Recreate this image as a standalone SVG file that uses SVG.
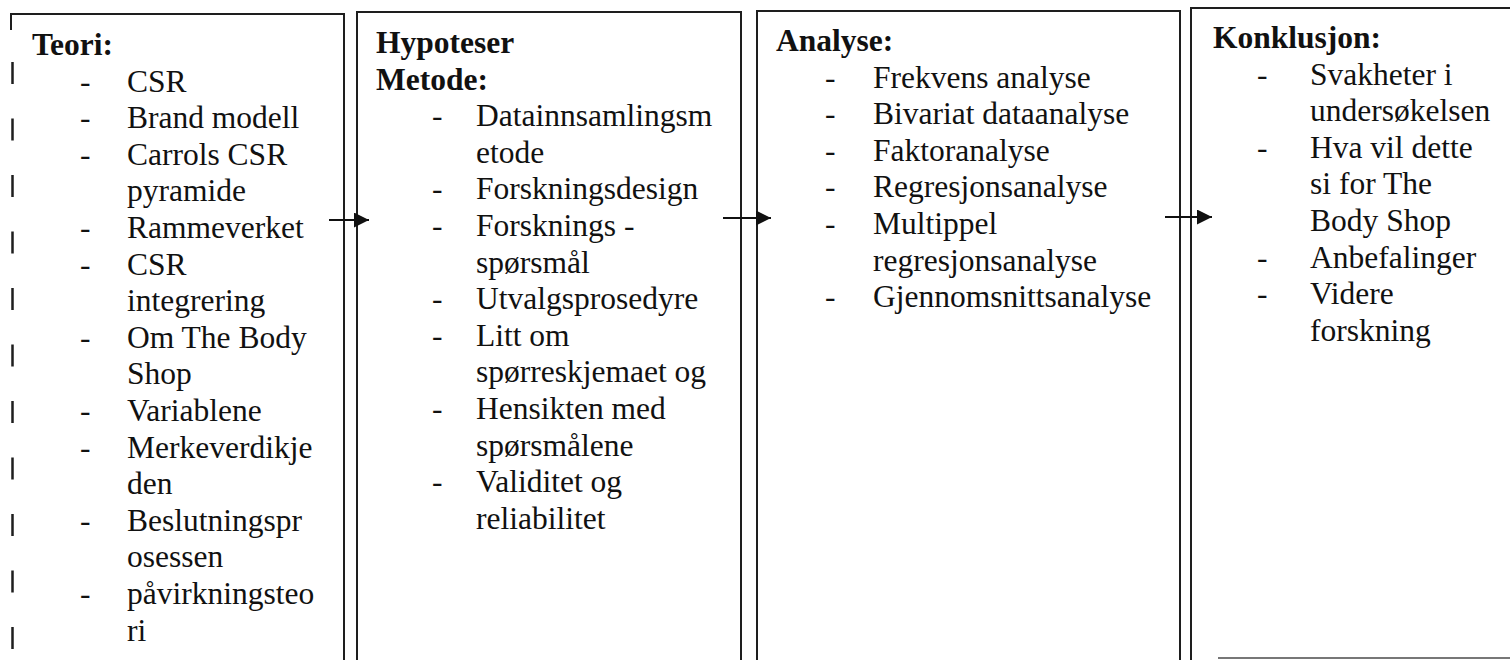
<svg xmlns="http://www.w3.org/2000/svg" width="1510" height="660" viewBox="0 0 1510 660">
  <style>
    .frame { fill: none; stroke: #1e1e1e; stroke-width: 2; }
    .edge-dash { fill: none; stroke: #1e1e1e; stroke-width: 2.5; stroke-dasharray: 22 34.5; }
    .hd { font-family: "Liberation Serif", "Times New Roman", serif; font-size: 31.5px; font-weight: bold; fill: #111; }
    .tx { font-family: "Liberation Serif", "Times New Roman", serif; font-size: 31.5px; fill: #111; }
    .link { stroke: #111; stroke-width: 2; fill: none; }
  </style>
  <defs>
    <marker id="arrow" viewBox="0 0 10 10" refX="10" refY="5" markerWidth="15" markerHeight="15" markerUnits="userSpaceOnUse" orient="auto">
      <path d="M0,0 L10,5 L0,10 Z" fill="#111"/>
    </marker>
  </defs>
  <rect width="1510" height="660" fill="#ffffff"/>

  <!-- Theory column -->
  <g id="teori">
    <path class="frame" d="M11,30 V14 H344 V660"/>
    <line class="edge-dash" x1="12.5" y1="62" x2="12.5" y2="660"/>
    <text class="hd" x="32" y="55">Teori:</text>
    <g class="tx">
      <text x="80" y="91.6">-</text><text x="127" y="91.6">CSR</text>
      <text x="80" y="128.2">-</text><text x="127" y="128.2">Brand modell</text>
      <text x="80" y="164.8">-</text><text x="127" y="164.8">Carrols CSR</text>
      <text x="127" y="201.4">pyramide</text>
      <text x="80" y="238">-</text><text x="127" y="238">Rammeverket</text>
      <text x="80" y="274.6">-</text><text x="127" y="274.6">CSR</text>
      <text x="127" y="311.2">integrering</text>
      <text x="80" y="347.8">-</text><text x="127" y="347.8">Om The Body</text>
      <text x="127" y="384.4">Shop</text>
      <text x="80" y="421">-</text><text x="127" y="421">Variablene</text>
      <text x="80" y="457.6">-</text><text x="127" y="457.6">Merkeverdikje</text>
      <text x="127" y="494.2">den</text>
      <text x="80" y="530.8">-</text><text x="127" y="530.8">Beslutningspr</text>
      <text x="127" y="567.4">osessen</text>
      <text x="80" y="604">-</text><text x="127" y="604">påvirkningsteo</text>
      <text x="127" y="640.6">ri</text>
    </g>
  </g>

  <!-- Hypotheses and method column -->
  <g id="metode">
    <path class="frame" d="M357,660 V12 H741 V660"/>
    <text class="hd" x="376" y="53">Hypoteser</text>
    <text class="hd" x="376" y="89.6">Metode:</text>
    <g class="tx">
      <text x="432" y="126.2">-</text><text x="476" y="126.2">Datainnsamlingsm</text>
      <text x="476" y="162.8">etode</text>
      <text x="432" y="199.4">-</text><text x="476" y="199.4">Forskningsdesign</text>
      <text x="432" y="236">-</text><text x="476" y="236">Forsknings -</text>
      <text x="476" y="272.6">spørsmål</text>
      <text x="432" y="309.2">-</text><text x="476" y="309.2">Utvalgsprosedyre</text>
      <text x="432" y="345.8">-</text><text x="476" y="345.8">Litt om</text>
      <text x="476" y="382.4">spørreskjemaet og</text>
      <text x="432" y="419">-</text><text x="476" y="419">Hensikten med</text>
      <text x="476" y="455.6">spørsmålene</text>
      <text x="432" y="492.2">-</text><text x="476" y="492.2">Validitet og</text>
      <text x="476" y="528.8">reliabilitet</text>
    </g>
  </g>

  <!-- Analysis column -->
  <g id="analyse">
    <path class="frame" d="M757,660 V11 H1180 V660"/>
    <text class="hd" x="776" y="51">Analyse:</text>
    <g class="tx">
      <text x="825" y="87.6">-</text><text x="873" y="87.6">Frekvens analyse</text>
      <text x="825" y="124.2">-</text><text x="873" y="124.2">Bivariat dataanalyse</text>
      <text x="825" y="160.8">-</text><text x="873" y="160.8">Faktoranalyse</text>
      <text x="825" y="197.4">-</text><text x="873" y="197.4">Regresjonsanalyse</text>
      <text x="825" y="234">-</text><text x="873" y="234">Multippel</text>
      <text x="873" y="270.6">regresjonsanalyse</text>
      <text x="825" y="307.2">-</text><text x="873" y="307.2">Gjennomsnittsanalyse</text>
    </g>
  </g>

  <!-- Conclusion column -->
  <g id="konklusjon">
    <path class="frame" d="M1191,660 V8 H1510"/>
    <line x1="1218" y1="658" x2="1510" y2="658" stroke="#777" stroke-width="2"/>
    <text class="hd" x="1213" y="48">Konklusjon:</text>
    <g class="tx">
      <text x="1257" y="84.6">-</text><text x="1310" y="84.6">Svakheter i</text>
      <text x="1310" y="121.2">undersøkelsen</text>
      <text x="1257" y="157.8">-</text><text x="1310" y="157.8">Hva vil dette</text>
      <text x="1310" y="194.4">si for The</text>
      <text x="1310" y="231">Body Shop</text>
      <text x="1257" y="267.6">-</text><text x="1310" y="267.6">Anbefalinger</text>
      <text x="1257" y="304.2">-</text><text x="1310" y="304.2">Videre</text>
      <text x="1310" y="340.8">forskning</text>
    </g>
  </g>

  <!-- Connectors between columns -->
  <g id="connectors">
    <line class="link" x1="329" y1="220" x2="369" y2="220" marker-end="url(#arrow)"/>
    <line class="link" x1="723" y1="218" x2="771" y2="218" marker-end="url(#arrow)"/>
    <line class="link" x1="1165" y1="217" x2="1212" y2="217" marker-end="url(#arrow)"/>
  </g>
</svg>
